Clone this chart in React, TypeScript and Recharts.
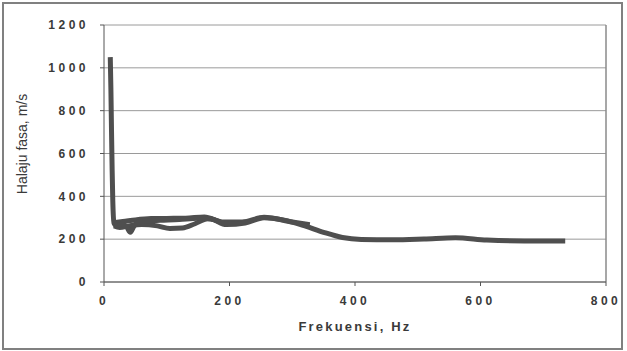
import { LineChart, Line, XAxis, YAxis, CartesianGrid, ReferenceLine } from 'recharts'

// Frequency (Hz) vs phase velocity (m/s), three overlapping measurement runs
const mainRun = [
  { f: 10, v: 1050 }, { f: 11, v: 900 }, { f: 12, v: 700 }, { f: 13, v: 520 },
  { f: 14, v: 380 }, { f: 16, v: 275 }, { f: 20, v: 262 }, { f: 28, v: 270 },
  { f: 36, v: 258 }, { f: 42, v: 232 }, { f: 48, v: 262 }, { f: 56, v: 280 },
  { f: 70, v: 285 }, { f: 90, v: 288 }, { f: 120, v: 292 }, { f: 150, v: 298 },
  { f: 170, v: 295 }, { f: 195, v: 268 }, { f: 225, v: 275 }, { f: 255, v: 300 },
  { f: 285, v: 290 }, { f: 320, v: 262 }, { f: 350, v: 232 }, { f: 380, v: 208 },
  { f: 410, v: 199 }, { f: 460, v: 197 }, { f: 510, v: 201 }, { f: 560, v: 207 },
  { f: 610, v: 196 }, { f: 670, v: 192 }, { f: 735, v: 192 },
]

const lowerRun = [
  { f: 16, v: 262 }, { f: 25, v: 255 }, { f: 40, v: 262 }, { f: 60, v: 268 },
  { f: 85, v: 262 }, { f: 105, v: 250 }, { f: 125, v: 252 }, { f: 145, v: 272 },
  { f: 165, v: 295 }, { f: 190, v: 275 },
]

const upperRun = [
  { f: 18, v: 278 }, { f: 30, v: 282 }, { f: 50, v: 290 }, { f: 75, v: 296 },
  { f: 100, v: 297 }, { f: 130, v: 298 }, { f: 160, v: 304 }, { f: 190, v: 280 },
  { f: 220, v: 280 }, { f: 255, v: 302 }, { f: 300, v: 280 }, { f: 328, v: 268 },
]

const xTicks = [0, 200, 400, 600, 800]
const yTicks = [0, 200, 400, 600, 800, 1000, 1200]

const font = 'Liberation Sans, Arial, sans-serif'

const tickStyle = {
  fontSize: 12,
  fill: '#3a3a3a',
  fontWeight: 'bold' as const,
  letterSpacing: 3.5,
  fontFamily: font,
}

const lineColor = '#4f4f4f'

function YTitle() {
  const x = 22
  const y = 144
  return (
    <text
      x={x}
      y={y}
      transform={`rotate(-90, ${x}, ${y})`}
      textAnchor="middle"
      dominantBaseline="central"
      fontSize={14}
      fill="#3a3a3a"
      fontFamily={font}
    >
      Halaju fasa, m/s
    </text>
  )
}

export default function App() {
  return (
    <div style={{ position: 'absolute', left: 0, top: 0, width: 627, height: 351, background: '#fff' }}>
      <div
        style={{
          position: 'absolute',
          left: 2,
          top: 2,
          width: 621,
          height: 348,
          border: '2px solid #808080',
          boxSizing: 'border-box',
        }}
      />
      <div style={{ position: 'absolute', left: 0, top: 0 }}>
        <LineChart width={627} height={351} margin={{ top: 25, right: 21, left: 24, bottom: 39 }}>
          <CartesianGrid vertical={false} stroke="#9a9a9a" strokeWidth={1} />
          <XAxis
            type="number"
            dataKey="f"
            domain={[0, 800]}
            ticks={xTicks}
            allowDataOverflow
            height={30}
            stroke="#555"
            tickSize={4}
            tickMargin={10}
            tick={tickStyle}
            label={{
              value: 'Frekuensi, Hz',
              position: 'insideBottom',
              offset: -19,
              style: {
                fontSize: 13,
                fill: '#3a3a3a',
                fontWeight: 'bold',
                letterSpacing: 2.2,
                fontFamily: font,
              },
            }}
          />
          <YAxis
            type="number"
            domain={[0, 1200]}
            ticks={yTicks}
            width={80}
            stroke="#555"
            tickSize={4}
            tickMargin={11}
            tick={tickStyle}
            label={{ content: YTitle }}
          />
          <ReferenceLine x={800} stroke="#8a8a8a" strokeWidth={1.5} />
          <Line data={lowerRun} dataKey="v" type="monotone" stroke={lineColor} strokeWidth={5} dot={false} isAnimationActive={false} />
          <Line data={upperRun} dataKey="v" type="monotone" stroke={lineColor} strokeWidth={5} dot={false} isAnimationActive={false} />
          <Line data={mainRun} dataKey="v" type="monotone" stroke={lineColor} strokeWidth={5} dot={false} isAnimationActive={false} />
        </LineChart>
      </div>
    </div>
  )
}
